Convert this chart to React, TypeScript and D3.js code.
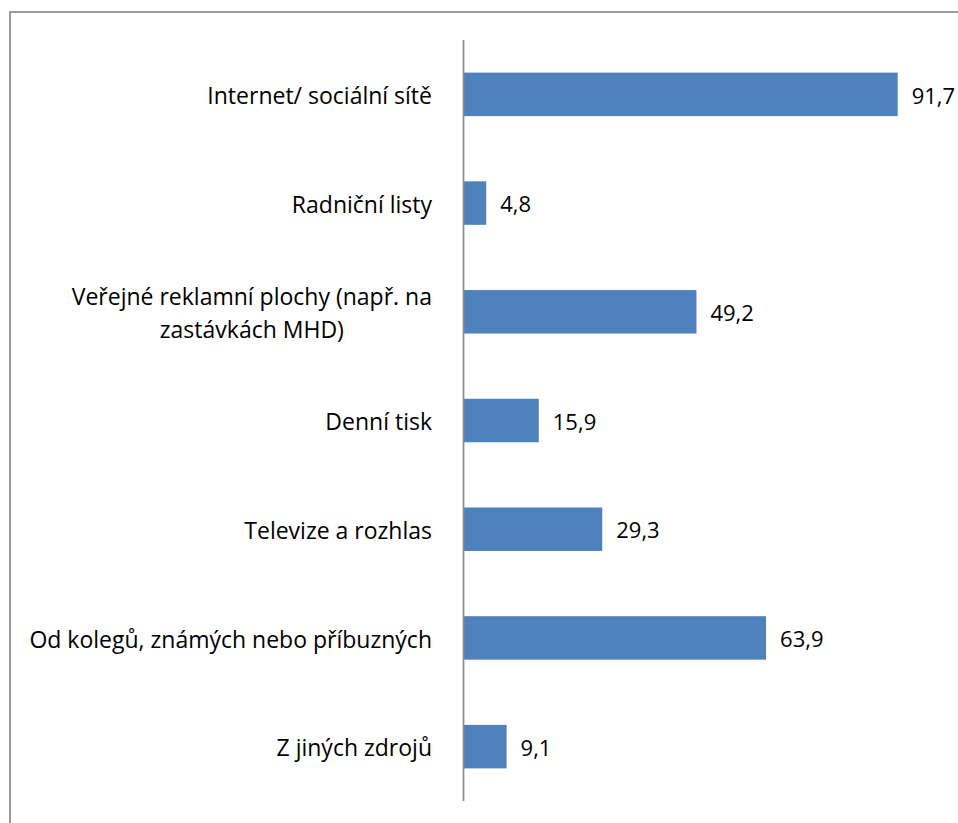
import React, { useEffect, useRef } from "react";
import * as d3 from "d3";

const categories: string[][] = [
  ["Internet/ sociální sítě"],
  ["Radniční listy"],
  ["Veřejné reklamní plochy (např. na", "zastávkách MHD)"],
  ["Denní tisk"],
  ["Televize a rozhlas"],
  ["Od kolegů, známých nebo příbuzných"],
  ["Z jiných zdrojů"],
];
const values: number[] = [91.7, 4.8, 49.2, 15.9, 29.3, 63.9, 9.1];
const valueLabels: string[] = ["91,7", "4,8", "49,2", "15,9", "29,3", "63,9", "9,1"];

const W = 958;
const H = 823;
const FONT = "'Open Sans', sans-serif";

export default function App() {
  const ref = useRef<SVGSVGElement | null>(null);

  useEffect(() => {
    const svg = d3.select(ref.current);
    svg.selectAll("*").remove();

    const axisX = 463.5;
    const x = d3.scaleLinear().domain([0, 100]).range([axisX, axisX + 473.5]);
    const y = d3
      .scaleBand<number>()
      .domain(d3.range(categories.length))
      .range([40, 801])
      .paddingInner(0.6)
      .paddingOuter(0.3);

    svg
      .append("rect")
      .attr("x", 10)
      .attr("y", 12)
      .attr("width", W + 20)
      .attr("height", H + 20)
      .attr("fill", "#fff")
      .attr("stroke", "#8c8c8c")
      .attr("stroke-width", 1.75);

    svg
      .selectAll("rect.bar")
      .data(values)
      .join("rect")
      .attr("class", "bar")
      .attr("x", axisX)
      .attr("y", (_, i) => y(i)!)
      .attr("width", (d) => x(d) - axisX)
      .attr("height", y.bandwidth())
      .attr("fill", "#4F81BD");

    svg
      .append("line")
      .attr("x1", axisX)
      .attr("x2", axisX)
      .attr("y1", 40)
      .attr("y2", 801)
      .attr("stroke", "#8c8c8c")
      .attr("stroke-width", 1.75);

    svg
      .selectAll("text.val")
      .data(values)
      .join("text")
      .attr("class", "val")
      .attr("x", (d) => x(d) + 14)
      .attr("y", (_, i) => y(i)! + y.bandwidth() / 2)
      .attr("dy", "0.42em")
      .attr("font-family", FONT)
      .attr("font-size", 22)
      .attr("fill", "#000")
      .text((_, i) => valueLabels[i]);

    const labelRight = 432;
    const lineH = 33;
    categories.forEach((lines, i) => {
      const cy = y(i)! + y.bandwidth() / 2;
      const g = svg.append("g");
      const texts = lines.map((ln, j) =>
        g
          .append("text")
          .attr("y", cy + (j - (lines.length - 1) / 2) * lineH)
          .attr("dy", "0.42em")
          .attr("font-family", FONT)
          .attr("font-size", 23)
          .attr("fill", "#000")
          .text(ln)
      );
      if (lines.length === 1) {
        texts[0].attr("x", labelRight).attr("text-anchor", "end");
      } else {
        const widths = texts.map((t) => (t.node() as SVGTextElement).getComputedTextLength());
        const maxW = Math.max(...widths);
        const cx = labelRight - maxW / 2;
        texts.forEach((t) => t.attr("x", cx).attr("text-anchor", "middle"));
      }
    });
  }, []);

  return (
    <svg
      ref={ref}
      width={W}
      height={H}
      style={{ position: "absolute", left: 0, top: 0, background: "#fff" }}
    />
  );
}
